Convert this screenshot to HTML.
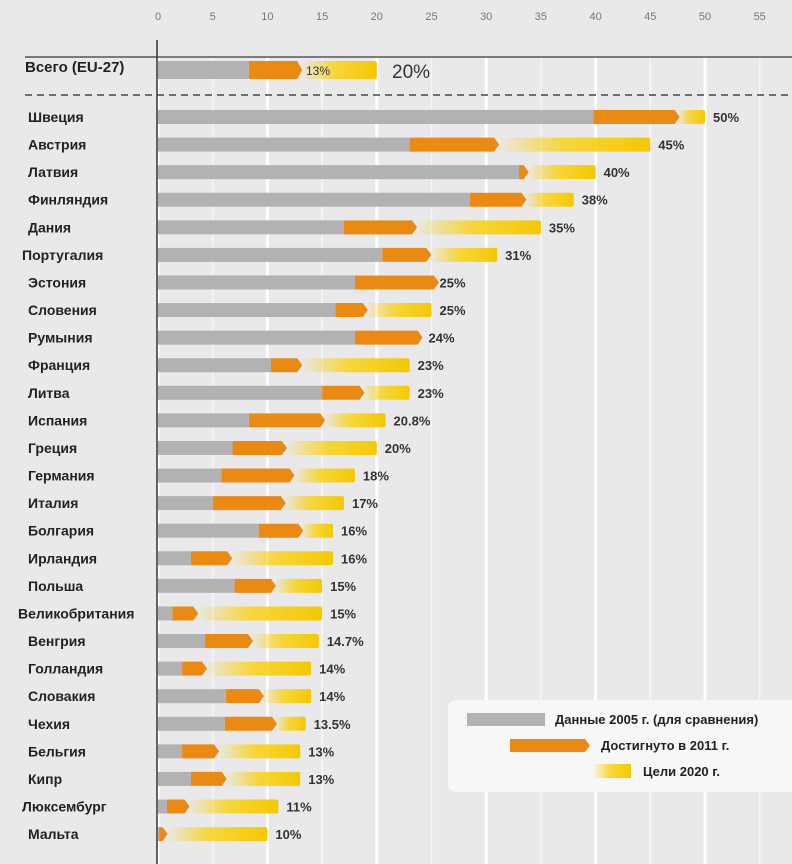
<!DOCTYPE html>
<html><head><meta charset="utf-8">
<style>
html,body{margin:0;padding:0;background:#e9e9eb;}
svg{display:block;font-family:"Liberation Sans Narrow","Liberation Sans","Noto Sans CJK SC",sans-serif;}
</style></head>
<body>
<svg id="chart" width="792" height="864" viewBox="0 0 792 864" xmlns="http://www.w3.org/2000/svg">
<defs>
<linearGradient id="yg" x1="0" x2="1" y1="0" y2="0">
<stop offset="0" stop-color="#f7d000" stop-opacity="0"/>
<stop offset="0.45" stop-color="#f9d21a" stop-opacity="0.85"/>
<stop offset="1" stop-color="#f4c800"/>
</linearGradient>
</defs>
<rect x="0" y="0" width="792" height="864" fill="#e9e9eb"/>
<g id="grid"></g>
<g id="bars"></g>
<g id="labels"></g>
</svg>
<script>
const countries=["Швеция","Австрия","Латвия","Финляндия","Дания","Португалия","Эстония","Словения","Румыния","Франция","Литва","Испания","Греция","Германия","Италия","Болгария","Ирландия","Польша","Великобритания","Венгрия","Голландия","Словакия","Чехия","Бельгия","Кипр","Люксембург","Мальта"];
const v2005=[39.8,23,33,28.5,17,20.5,18,16.2,18,10.3,15,8.3,6.8,5.8,5,9.2,3,7,1.3,4.3,2.2,6.2,6.1,2.2,3,0.8,0.1];
const v2011=[47.5,31,33.7,33.5,23.5,24.8,25.5,19,24,13,18.7,15.1,11.6,12.3,11.5,13.1,6.6,10.6,3.5,8.5,4.3,9.5,10.7,5.4,6.1,2.7,0.7];
const target=[50,45,40,38,35,31,25,25,24,23,23,20.8,20,18,17,16,16,15,15,14.7,14,14,13.5,13,13,11,10];
const targetLabels=["50%","45%","40%","38%","35%","31%","25%","25%","24%","23%","23%","20.8%","20%","18%","17%","16%","16%","15%","15%","14.7%","14%","14%","13.5%","13%","13%","11%","10%"];
const eu={name:"Всего (EU-27)",v2005:8.3,v2011:13,target:20};
const ticks=[0,5,10,15,20,25,30,35,40,45,50,55];

const NS="http://www.w3.org/2000/svg";
const x=v=>158+v*10.94;
const rowY=i=>117+i*27.58;
function mk(tag,attrs,parent,text){const e=document.createElementNS(NS,tag);for(const k in attrs)e.setAttribute(k,attrs[k]);if(text!==undefined)e.textContent=text;parent.appendChild(e);return e;}
const grid=document.getElementById('grid'),bars=document.getElementById('bars'),labels=document.getElementById('labels');

ticks.forEach(t=>{
  const g=mk('line',{x1:x(t),x2:x(t),y1:57,y2:864,stroke:'#ffffff','stroke-width':t%10===0?3:1.5,opacity:t%10===0?1:0.6},grid);
  
  
  const tl=mk('text',{x:x(t),y:20,'font-size':11,fill:'#777','text-anchor':'middle'},grid,String(t));
  
  
});
const topLine=mk('line',{x1:25,x2:792,y1:57,y2:57,stroke:'#555','stroke-width':1.5},grid);


const dash=mk('line',{x1:25,x2:792,y1:95,y2:95,stroke:'#444','stroke-width':1.5,'stroke-dasharray':'7,5'},grid);


const yAxis=mk('line',{x1:157,x2:157,y1:40,y2:864,stroke:'#333','stroke-width':1.5},grid);



function drawRow(cy,a,b,t,h,key){
  const yb=mk('rect',{x:x(b),y:cy-h/2,width:Math.max(0,x(t)-x(b)),height:h,fill:'url(#yg)',rx:2},bars);
  
  
  const ob=mk('path',{d:`M${x(a)},${cy-h/2} L${x(b)-3},${cy-h/2} L${x(b)+2},${cy} L${x(b)-3},${cy+h/2} L${x(a)},${cy+h/2} Z`,fill:'#ea8a12'},bars);
  
  
  const gb=mk('rect',{x:x(0),y:cy-h/2,width:x(a)-x(0),height:h,fill:'#b2b2b4'},bars);
  
  
}
drawRow(70,eu.v2005,eu.v2011,eu.target,18,'eu27');
const el=mk('text',{x:25,y:72,'font-size':15,'font-weight':'bold',fill:'#222'},labels,eu.name);


const e13=mk('text',{x:306,y:75,'font-size':12,fill:'#333'},labels,'13%');


const e20=mk('text',{x:392,y:78,'font-size':19,fill:'#333'},labels,'20%');



countries.forEach((c,i)=>{
  const cy=rowY(i);
  drawRow(cy,v2005[i],v2011[i],target[i],14,'row-'+i);
  const lx=c.length>12?18:(c.length>9?22:28);
  const l=mk('text',{x:lx,y:cy+5,'font-size':14,'font-weight':'bold',fill:'#222'},labels,c);
  
  
  const v=mk('text',{x:x(target[i])+8,y:cy+5,'font-size':13,'font-weight':'bold',fill:'#333'},labels,targetLabels[i]);
  
  
});

const svg=document.getElementById('chart');
const lg=mk('g',{},svg);


mk('rect',{x:448,y:700,width:360,height:92,rx:8,fill:'#f7f7f7'},lg);
mk('rect',{x:467,y:713,width:78,height:13,fill:'#b2b2b4'},lg);
mk('text',{x:555,y:724,'font-size':13,'font-weight':'bold',fill:'#222'},lg,'Данные 2005 г. (для сравнения)');
mk('path',{d:'M510,739 L585,739 L590,745.5 L585,752 L510,752 Z',fill:'#ea8a12'},lg);
mk('text',{x:601,y:750,'font-size':13,'font-weight':'bold',fill:'#222'},lg,'Достигнуто в 2011 г.');
mk('rect',{x:593,y:764,width:38,height:14,fill:'url(#yg)'},lg);
mk('text',{x:643,y:776,'font-size':13,'font-weight':'bold',fill:'#222'},lg,'Цели 2020 г.');
</script>
</body></html>
